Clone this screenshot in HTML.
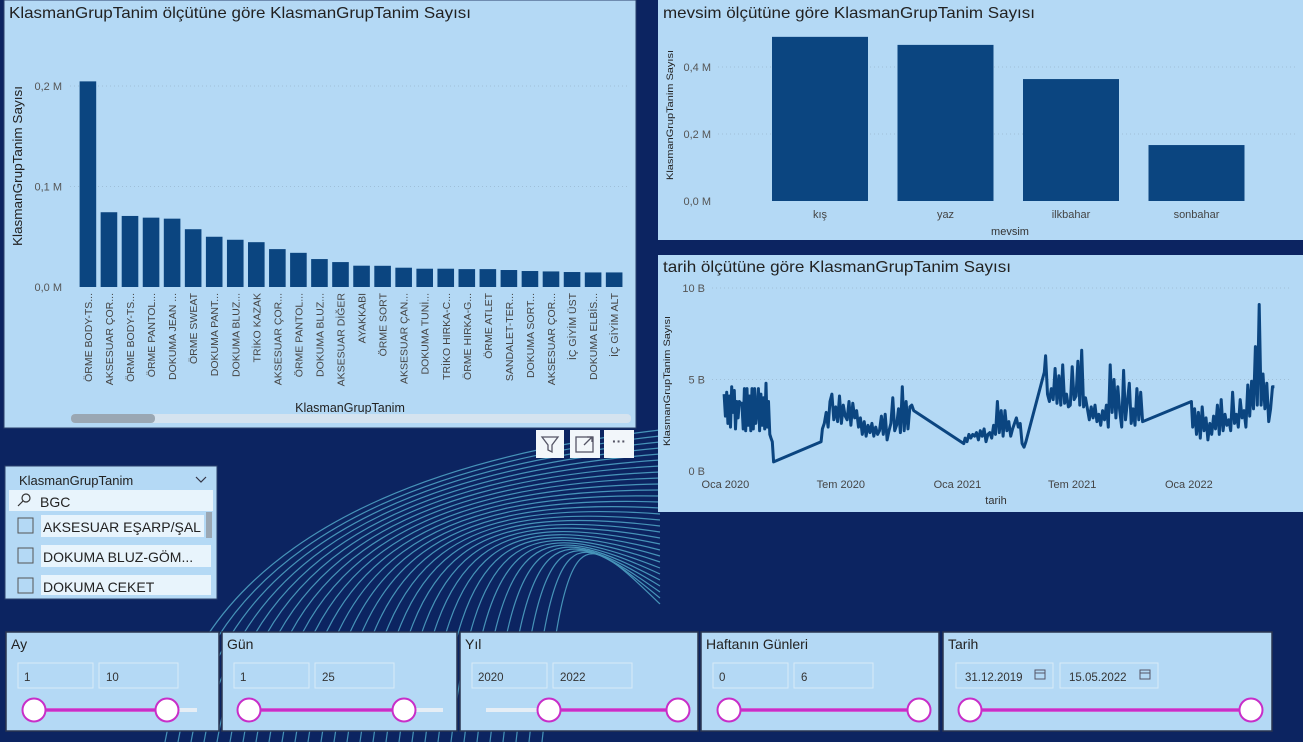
<!DOCTYPE html>
<html><head><meta charset="utf-8">
<style>
html,body{margin:0;padding:0;background:#0c2461;}
svg{display:block;font-family:"Liberation Sans",sans-serif;}
</style></head>
<body>
<svg id="root" width="1303" height="742" viewBox="0 0 1303 742" xmlns="http://www.w3.org/2000/svg">
<rect x="0" y="0" width="1303" height="742" fill="#0c2461"/>
<g id="deco" fill="none" stroke="#5fc3de" stroke-width="1.2" opacity="0.7"></g>

<!-- Bar chart panel -->
<g>
<rect x="4" y="0" width="632" height="428" fill="#b4d9f5" stroke="#2a3f6a" stroke-width="1"/>
<text x="9" y="18" font-size="16" fill="#222" textLength="462" lengthAdjust="spacingAndGlyphs">KlasmanGrupTanim ölçütüne göre KlasmanGrupTanim Sayısı</text>
<text transform="translate(22,246) rotate(-90)" font-size="12.5" fill="#222" textLength="160" lengthAdjust="spacingAndGlyphs">KlasmanGrupTanim Sayısı</text>
<text x="350" y="412" font-size="12.5" fill="#222" text-anchor="middle">KlasmanGrupTanim</text>
<g id="barGrid"></g><g id="bars"></g><g id="barLabels"></g>
<rect x="71" y="414" width="560" height="9" rx="4" fill="#d5e3ef"/>
<rect x="71" y="414" width="84" height="9" rx="4" fill="#9aa7b3"/>
</g>

<!-- Mevsim chart panel -->
<g>
<rect x="658" y="0" width="645" height="240" fill="#b4d9f5"/>
<text x="663" y="18" font-size="16" fill="#222" textLength="372" lengthAdjust="spacingAndGlyphs">mevsim ölçütüne göre KlasmanGrupTanim Sayısı</text>
<text transform="translate(673,180) rotate(-90)" font-size="9" fill="#222" textLength="130" lengthAdjust="spacingAndGlyphs">KlasmanGrupTanim Sayısı</text>
<text x="1010" y="235" font-size="11" fill="#333" text-anchor="middle">mevsim</text>
<g id="mGrid"></g><g id="mBars"></g>
</g>

<!-- Line chart panel -->
<g>
<rect x="658" y="255" width="645" height="257" fill="#b4d9f5"/>
<text x="663" y="272" font-size="16" fill="#222" textLength="348" lengthAdjust="spacingAndGlyphs">tarih ölçütüne göre KlasmanGrupTanim Sayısı</text>
<text transform="translate(670,446) rotate(-90)" font-size="9" fill="#222" textLength="130" lengthAdjust="spacingAndGlyphs">KlasmanGrupTanim Sayısı</text>
<text x="996" y="504" font-size="11" fill="#333" text-anchor="middle">tarih</text>
<g id="lGrid"></g><g id="lLine"></g>
</g>

<!-- visual header icons -->
<g>
<rect x="536" y="430" width="28" height="28" fill="#f2f6fa"/>
<path d="M542,437 L558,437 L552,445 L552,452 L548,450 L548,445 Z" fill="none" stroke="#556" stroke-width="1.3"/>
<rect x="570" y="430" width="30" height="28" fill="#f2f6fa"/>
<rect x="576" y="437" width="17" height="15" fill="none" stroke="#556" stroke-width="1.3"/>
<path d="M584,445 L592,437 M587,437 L592,437 L592,442" fill="none" stroke="#556" stroke-width="1.3"/>
<rect x="604" y="430" width="30" height="28" fill="#f2f6fa"/>
<text x="619" y="446" font-size="14" fill="#556" text-anchor="middle" font-weight="bold">···</text>
</g>

<!-- list slicer -->
<g>
<rect x="5" y="466" width="212" height="133" fill="#b4d9f5" stroke="#2a3f6a"/>
<text x="19" y="485" font-size="13" fill="#222">KlasmanGrupTanim</text>
<path d="M196,477 L201,482 L206,477" fill="none" stroke="#334" stroke-width="1.2"/>
<rect x="9" y="490" width="204" height="21" fill="#e8f4fc"/>
<circle cx="26" cy="498" r="4" fill="none" stroke="#333" stroke-width="1.2"/>
<path d="M23,501 L18,506" stroke="#333" stroke-width="1.2"/>
<text x="40" y="507" font-size="14" fill="#222">BGC</text>
<rect x="206" y="512" width="6" height="26" fill="#9aa7b3"/>
<g>
<rect x="41" y="515" width="163" height="22" fill="#e8f4fc"/><rect x="18" y="518" width="15" height="15" fill="none" stroke="#555"/>
<text x="43" y="532" font-size="14" fill="#222">AKSESUAR EŞARP/ŞAL</text></g>
<g>
<rect x="41" y="545" width="170" height="22" fill="#e8f4fc"/><rect x="18" y="548" width="15" height="15" fill="none" stroke="#555"/>
<text x="43" y="562" font-size="14" fill="#222">DOKUMA BLUZ-GÖM...</text></g>
<g>
<rect x="41" y="575" width="170" height="20" fill="#e8f4fc"/><rect x="18" y="578" width="15" height="15" fill="none" stroke="#555"/>
<text x="43" y="592" font-size="14" fill="#222">DOKUMA CEKET</text></g>
</g>

<g id="rangeSlicers"></g>
</svg>

<script>
// ---------- bar chart data ----------
const barCategories = ["ÖRME BODY-TS...","AKSESUAR ÇOR...","ÖRME BODY-TS...","ÖRME PANTOL...","DOKUMA JEAN ...","ÖRME SWEAT","DOKUMA PANT...","DOKUMA BLUZ...","TRİKO KAZAK","AKSESUAR ÇOR...","ÖRME PANTOL...","DOKUMA BLUZ...","AKSESUAR DİĞER","AYAKKABI","ÖRME SORT","AKSESUAR ÇAN...","DOKUMA TUNİ...","TRİKO HIRKA-C...","ÖRME HIRKA-G...","ÖRME ATLET","SANDALET-TER...","DOKUMA SORT...","AKSESUAR ÇOR...","İÇ GİYİM ÜST","DOKUMA ELBİS...","İÇ GİYİM ALT"];
const barValues = [0.2046,0.0744,0.0707,0.069,0.068,0.0575,0.050,0.047,0.0446,0.0377,0.034,0.0278,0.0248,0.0212,0.0211,0.0192,0.0182,0.0182,0.0178,0.0178,0.0169,0.0159,0.0155,0.0149,0.0145,0.0145];
const barTicks = [0,0.1,0.2];
const barTickLabels = ["0,0 M","0,1 M","0,2 M"];
// ---------- season chart data ----------
const seasonCategories = ["kış","yaz","ilkbahar","sonbahar"];
const seasonValues = [0.49,0.466,0.364,0.167];
const seasonTicks = [0,0.2,0.4];
const seasonTickLabels = ["0,0 M","0,2 M","0,4 M"];
// ---------- line chart data (day offset from 2020-01-01, value in B) ----------
const lineSegStart = [-2,76,151,153,376,378,503,505,735,737];
const lineSegStep  = [2,1,1,3,1,3,1,3,1,3];
const lineSegValues = [
 [4.2,3.0,4.3,2.6,4.1,2.4,4.6,3.2,4.4,2.3,3.8,2.9,3.8,3.7,3.7,2.3,4.5,2.2,4.5,2.5,4.1,2.2,4.5,2.3,4.5,2.6,3.3,4.5,2.2,4.2,2.5,4.0,2.3,4.8,2.4,3.8,2.0,1.8,1.6],
 [0.5],
 [1.6],
 [2.3,2.6,3.2,2.4,3.8,4.2,2.8,3.5,2.7,4.1,2.6,3.6,3.0,2.8,3.8,2.5,3.7,2.9,3.3,2.4,2.9,2.0,2.7,1.9,2.5,2.1,2.6,1.9,2.4,2.0,2.2,3.0,2.0,3.1,1.7,2.2,2.6,4.0,2.2,2.5,3.4,2.1,4.6,2.2,3.8,2.3,3.5,3.6,3.3],
 [1.5],
 [1.8,1.6,2.0,1.8,2.0,1.9,2.1,1.7,2.2,1.9,2.3,1.6,2.0,2.1,1.8,2.5,2.0,3.8,2.1,3.3,1.9,3.3,2.2,2.7,1.9,2.3,2.6,2.9,2.4,2.6,1.5,1.3,1.6],
 [5.4],
 [6.3,4.2,3.8,4.5,3.9,5.6,3.7,5.2,3.6,5.8,3.7,4.2,3.5,3.6,5.7,3.9,4.1,6.0,3.6,6.6,3.5,4.0,3.4,2.8,3.5,2.9,3.6,2.7,3.1,2.5,3.3,2.8,3.6,2.4,5.8,3.2,5.0,2.9,4.6,3.3,2.4,5.5,2.8,3.8,4.8,2.6,3.4,2.5,4.5,2.8,4.3,2.7],
 [3.8],
 [2.4,3.4,2.0,3.2,1.8,3.5,2.2,2.9,1.7,2.6,2.0,3.0,2.3,3.6,2.0,3.9,2.2,3.1,2.5,2.8,2.2,4.3,2.6,3.1,2.4,3.9,2.9,3.3,2.4,4.7,3.0,4.9,3.4,6.8,3.6,9.1,3.6,5.3,3.4,4.8,2.7,3.4,4.6,4.6]
];
const lineTicks = [0,5,10];
const lineTickLabels = ["0 B","5 B","10 B"];
const lineXTickDays = [0,182,366,547,731];
const lineXTickLabels = ["Oca 2020","Tem 2020","Oca 2021","Tem 2021","Oca 2022"];
// ---------- range slicers ----------
const slicerTitles = ["Ay","Gün","Yıl","Haftanın Günleri","Tarih"];
const slicerLow = ["1","1","2020","0","31.12.2019"];
const slicerHigh = ["10","25","2022","6","15.05.2022"];

const NS="http://www.w3.org/2000/svg";
function mk(tag,attrs,parent,text){const e=document.createElementNS(NS,tag);for(const k in attrs)e.setAttribute(k,attrs[k]);if(text!==undefined)e.textContent=text;parent.appendChild(e);return e;}

// bar chart
const bx0=79.6, bstep=21.05, bw=16.6;
const byScale=v=>287-v*1005;
const bG=document.getElementById('barGrid');
barTicks.forEach((t,i)=>{
  if(t>0){const l=mk('line',{x1:70,x2:630,y1:byScale(t),y2:byScale(t),stroke:'#9fbfd8','stroke-dasharray':'1,3'},bG);
  
  }
  const tx=mk('text',{x:62,y:byScale(t)+4,'font-size':11,fill:'#555','text-anchor':'end'},bG,barTickLabels[i]);
  
  
});
const bB=document.getElementById('bars'), bL=document.getElementById('barLabels');
barValues.forEach((v,i)=>{
  const x=bx0+i*bstep;
  const r=mk('rect',{x:x,y:byScale(v),width:bw,height:287-byScale(v),fill:'#0b4580'},bB);
  
  
  const t=mk('text',{transform:`translate(${x+bw/2+4},293) rotate(-90)`,'font-size':10.5,fill:'#444','text-anchor':'end'},bL,barCategories[i]);
  
  
});

// season chart
const myScale=v=>201-v*335;
const mG=document.getElementById('mGrid');
seasonTicks.forEach((t,i)=>{
  if(t>0){const l=mk('line',{x1:718,x2:1295,y1:myScale(t),y2:myScale(t),stroke:'#9fbfd8','stroke-dasharray':'1,3'},mG);
  
  }
  const tx=mk('text',{x:711,y:myScale(t)+4,'font-size':11,fill:'#555','text-anchor':'end'},mG,seasonTickLabels[i]);
  
  
});
const mB=document.getElementById('mBars');
seasonValues.forEach((v,i)=>{
  const x=772+i*125.5;
  const r=mk('rect',{x:x,y:myScale(v),width:96,height:201-myScale(v),fill:'#0b4580'},mB);
  
  
  const t=mk('text',{x:x+48,y:218,'font-size':11,fill:'#444','text-anchor':'middle'},mB,seasonCategories[i]);
  
  
});

// line chart
const lxScale=d=>725.4+d*0.634;
const lyScale=v=>471-v*18.3;
const lG=document.getElementById('lGrid');
lineTicks.forEach((t,i)=>{
  if(t>0){const l=mk('line',{x1:712,x2:1290,y1:lyScale(t),y2:lyScale(t),stroke:'#9fbfd8','stroke-dasharray':'1,3'},lG);
  
  }
  const tx=mk('text',{x:705,y:lyScale(t)+4,'font-size':11,fill:'#555','text-anchor':'end'},lG,lineTickLabels[i]);
  
  
});
lineXTickDays.forEach((d,i)=>{
  const tx=mk('text',{x:lxScale(d),y:488,'font-size':11,fill:'#444','text-anchor':'middle'},lG,lineXTickLabels[i]);
  
  
});
const pts=[];
lineSegValues.forEach((seg,s)=>seg.forEach((v,j)=>pts.push([lineSegStart[s]+j*lineSegStep[s],v])));
const dstr=pts.map((p,i)=>(i?'L':'M')+lxScale(p[0]).toFixed(1)+','+lyScale(p[1]).toFixed(1)).join(' ');
const path=mk('path',{d:dstr,fill:'none',stroke:'#0b4580','stroke-width':3,'stroke-linejoin':'round'},document.getElementById('lLine'));



// decorative waves
const deco=document.getElementById('deco');
for(let i=0;i<30;i++){
  const p=mk('path',{d:`M${165+i*13},742 C${190+i*13},${600-i*3} ${320+i*9},${470+i*2} ${660},${430+i*6}`},deco);
  
  
}

// range slicers
const rs=document.getElementById('rangeSlicers');
const boxes=[[6,213],[222,235],[460,238],[701,238],[943,329]];
const knobs=[[34,167],[249,404],[549,678],[729,919],[970,1251]];
const tracks=[[34,197],[249,443],[486,678],[729,919],[970,1251]];
boxes.forEach((b,i)=>{
  const g=mk('g',{},rs);
  
  
  mk('rect',{x:b[0],y:632,width:b[1],height:99,fill:'#b4d9f5',stroke:'#2a3550','stroke-width':1.5},g);
  mk('text',{x:b[0]+5,y:649,'font-size':14,fill:'#222'},g,slicerTitles[i]);
  const wide=i===4;
  const x1=b[0]+(wide?13:12), w1=wide?97:75, x2=b[0]+(wide?117:93), w2=wide?98:79;
  const i1=mk('rect',{x:x1,y:663,width:w1,height:25,fill:'#b4d9f5',stroke:'#d8eaf8'},g);
  
  
  const i2=mk('rect',{x:x2,y:663,width:w2,height:25,fill:'#b4d9f5',stroke:'#d8eaf8'},g);
  
  
  mk('text',{x:x1+(wide?9:6),y:681,'font-size':11.5,fill:'#333'},g,slicerLow[i]);
  mk('text',{x:x2+(wide?9:7),y:681,'font-size':11.5,fill:'#333'},g,slicerHigh[i]);
  if(wide){[x1+w1-18,x2+w2-18].forEach(cx=>{mk('rect',{x:cx,y:670,width:10,height:9,fill:'none',stroke:'#556'},g);mk('line',{x1:cx,x2:cx+10,y1:673,y2:673,stroke:'#556'},g);});}
  mk('line',{x1:tracks[i][0],x2:tracks[i][1],y1:710,y2:710,stroke:'#e6eef5','stroke-width':4},g);
  mk('line',{x1:knobs[i][0],x2:knobs[i][1],y1:710,y2:710,stroke:'#c82ec8','stroke-width':3.5},g);
  knobs[i].forEach(kx=>{const c=mk('circle',{cx:kx,cy:710,r:11.5,fill:'#fff',stroke:'#c82ec8','stroke-width':2},g);
    
    });
});
</script>
</body></html>
